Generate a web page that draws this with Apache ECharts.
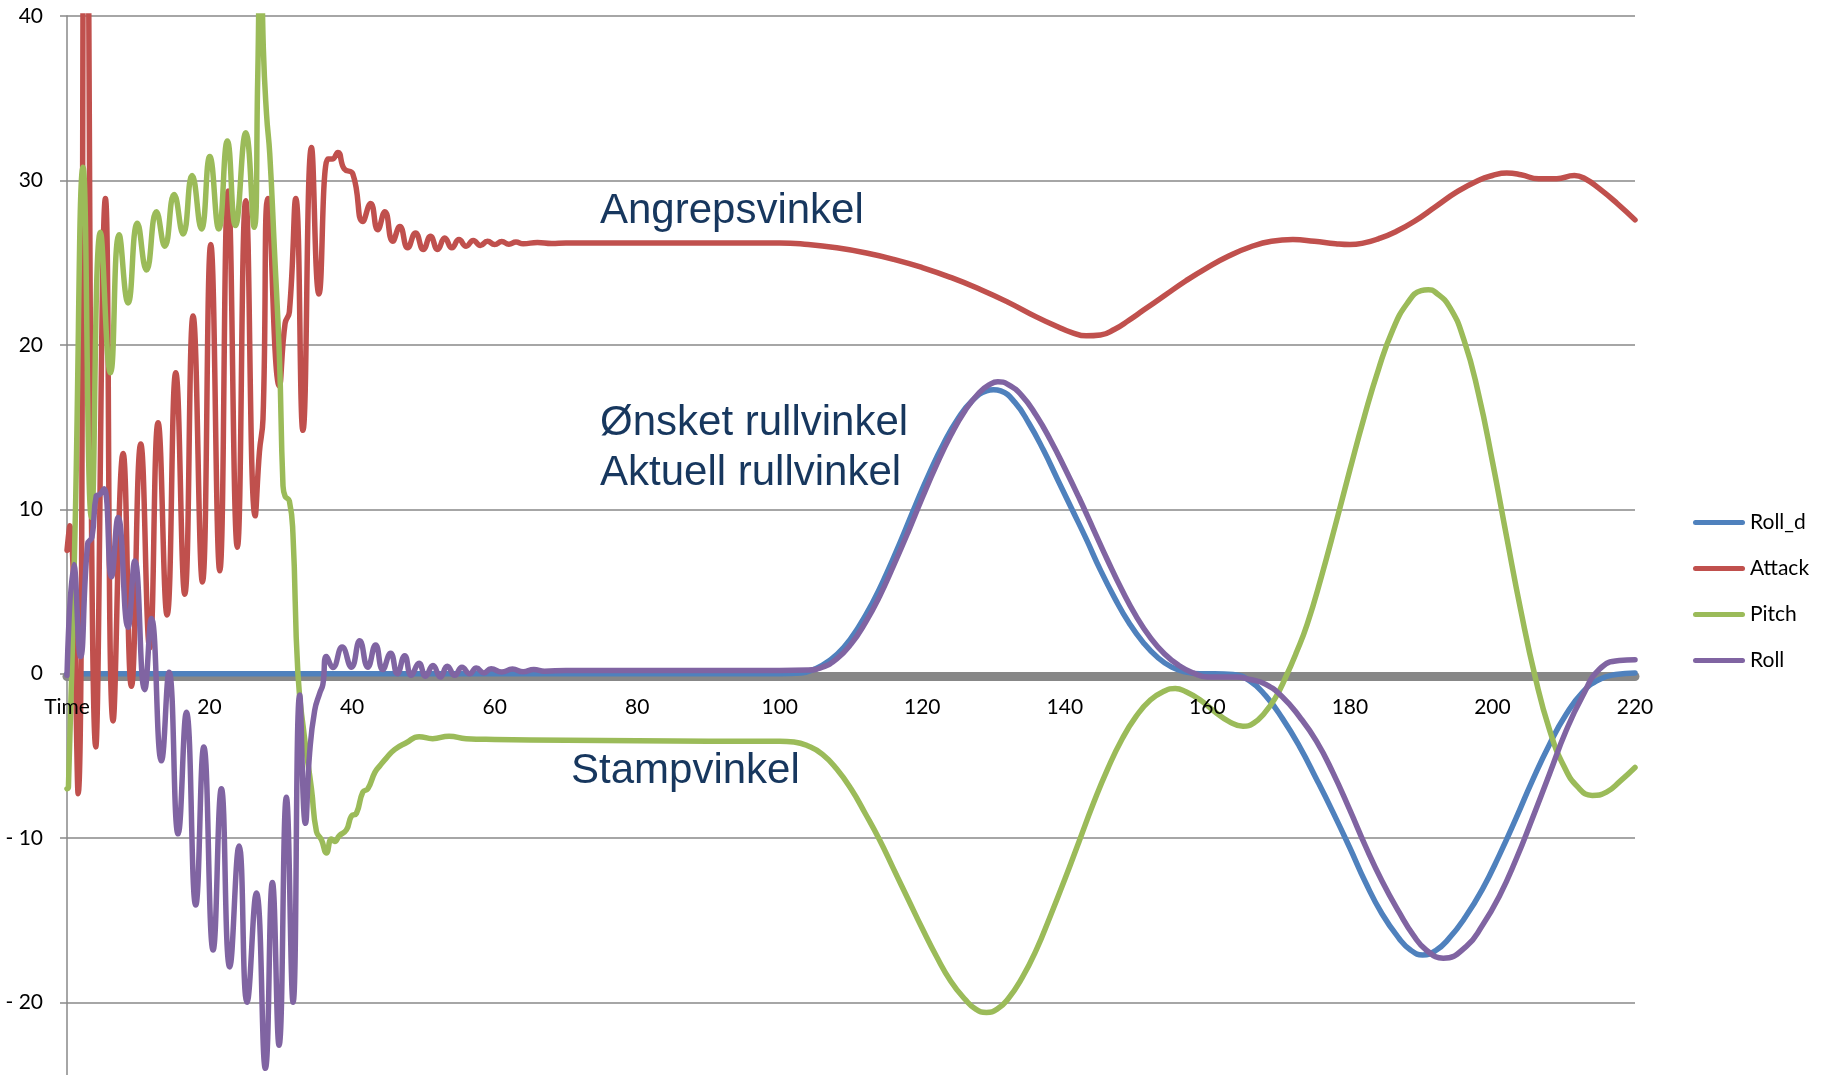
<!DOCTYPE html>
<html>
<head>
<meta charset="utf-8">
<script src="https://cdn.jsdelivr.net/npm/echarts@6/dist/echarts.min.js"></script>
<style>
  html, body { margin: 0; padding: 0; background: #ffffff; }
  #chart { width: 1829px; height: 1075px; }
</style>
</head>
<body>
<div id="chart"></div>
<script>
// Flight log: angles in degrees against time in seconds.
// Each series keeps its own time stamps (dense where it oscillates).

const rollDTime = [0, 100, 103, 105, 107, 109, 111, 113, 115, 117, 119, 121, 123, 125, 127, 129, 130, 131, 133, 135, 137, 139, 141, 143, 145, 147, 149, 151, 153, 155, 157, 159, 161, 163.6, 166, 168.2, 170.5, 172.9, 175.3, 177.6, 180, 182.2, 184.5, 186.9, 188.5, 190.2, 192, 193.9, 196.2, 198.6, 201, 203.3, 205.6, 208, 210.3, 212.7, 215, 217.3, 220];
const rollDDeg  = [0, 0, 0.05, 0.3, 0.8, 1.6, 2.8, 4.3, 6.1, 8.1, 10.2, 12.2, 14.0, 15.5, 16.6, 17.2, 17.27, 17.2, 16.5, 15.2, 13.6, 11.8, 10.0, 8.2, 6.3, 4.6, 3.1, 1.9, 1.0, 0.4, 0.1, 0, 0, -0.05, -0.45, -1.35, -2.7, -4.4, -6.4, -8.4, -10.6, -12.7, -14.6, -16.1, -16.8, -17.1, -16.85, -16.1, -14.8, -13.1, -11.0, -8.8, -6.5, -4.3, -2.5, -1.1, -0.35, -0.05, 0.05];

const attackTime = [0, 0.4, 1.56, 2.6, 4.04, 5.39, 6.47, 7.87, 9.04, 10.35, 11.61, 12.78, 14.04, 15.26, 16.52, 17.69, 19.0, 20.17, 21.43, 22.6, 23.9, 25.08, 26.4, 27.0, 27.5, 28.2, 29.8, 30.6, 31.2, 32.1, 33.1, 34.3, 35.35, 36.6, 37.2, 38.0, 38.9, 40.1, 41.5, 42.6, 43.6, 44.6, 45.7, 46.7, 47.8, 48.9, 50.0, 51.0, 52.0, 53.0, 54.0, 55.0, 56.0, 57.0, 58.0, 59.0, 60.0, 61.0, 62.0, 63.0, 64.0, 66.0, 68.0, 70, 80, 90, 100, 104, 108, 112, 116, 120, 124, 128, 132, 136, 139, 141, 143, 145, 147, 149, 151, 154, 157, 160, 163, 166, 169, 172, 175, 178, 180, 182, 184, 186.5, 189, 192, 195, 198, 200, 202, 204, 206.5, 209, 211.5, 213, 215, 217.5, 220];
const attackDeg  = [7.5, 9.0, -7.3, 58, -4.45, 28.9, -2.87, 13.4, -0.76, 13.97, 1.57, 15.27, 3.57, 18.3, 4.84, 21.76, 5.58, 26.1, 6.26, 29.35, 7.69, 28.77, 9.6, 13.5, 15.5, 28.9, 17.5, 21.3, 22.0, 28.9, 14.8, 32.0, 23.1, 31.3, 31.3, 31.7, 30.7, 30.4, 27.5, 28.6, 27.0, 28.1, 26.3, 27.2, 25.9, 26.8, 25.8, 26.6, 25.8, 26.5, 25.9, 26.4, 26.0, 26.35, 26.05, 26.3, 26.1, 26.28, 26.12, 26.25, 26.15, 26.22, 26.16, 26.2, 26.2, 26.2, 26.2, 26.1, 25.9, 25.6, 25.2, 24.7, 24.1, 23.4, 22.6, 21.7, 21.1, 20.75, 20.55, 20.6, 20.95, 21.5, 22.1, 23.0, 23.9, 24.7, 25.4, 25.95, 26.3, 26.4, 26.3, 26.15, 26.1, 26.2, 26.45, 26.9, 27.5, 28.4, 29.3, 30.0, 30.3, 30.45, 30.35, 30.1, 30.1, 30.3, 30.1, 29.5, 28.6, 27.6];

const pitchTime = [0, 0.2, 1.1, 2.26, 3.43, 4.69, 6.1, 7.31, 8.57, 9.88, 11.15, 12.55, 13.72, 15.03, 16.29, 17.55, 18.86, 20.03, 21.29, 22.5, 23.63, 25.08, 26.25, 26.75, 27.15, 27.55, 28.0, 28.45, 29.1, 29.8, 30.3, 30.6, 31.2, 31.7, 32.4, 33.3, 34.3, 35.0, 35.7, 36.4, 37.1, 37.56, 38.2, 39.2, 39.9, 40.6, 41.5, 42.2, 43.2, 43.9, 44.8, 46.0, 47.6, 49.4, 51.3, 53.6, 56.0, 60, 70, 80, 90, 100, 102, 104, 106, 108, 110, 112, 114, 116, 118, 120, 122, 124, 126, 127.5, 129, 130.5, 132, 134, 136, 138, 140, 142, 144, 146, 148, 150, 152, 154, 155.5, 157, 159, 161, 163, 165, 166.5, 168, 169.5, 171, 172.5, 174, 176, 178, 180, 182, 184, 186, 188, 190, 191, 192, 194, 196, 198, 200, 202, 204, 206, 208, 210, 212, 214, 216, 218, 220];
const pitchDeg  = [-7.0, -6.9, 8.2, 30.8, 9.5, 26.85, 18.3, 26.7, 22.55, 27.4, 24.55, 28.1, 26.0, 29.15, 26.74, 30.3, 27.05, 31.45, 27.05, 32.4, 27.26, 32.9, 27.15, 36, 46, 38, 34.0, 31.6, 25.8, 19.3, 11.5, 10.8, 10.5, 8.5, 0, -3.8, -7.0, -9.6, -10.1, -10.9, -10.05, -10.2, -9.85, -9.5, -8.66, -8.5, -7.2, -7.0, -6.0, -5.6, -5.13, -4.6, -4.2, -3.83, -3.95, -3.8, -3.95, -4.0, -4.05, -4.08, -4.1, -4.1, -4.15, -4.4, -4.9, -5.8, -7.0, -8.5, -10.1, -11.9, -13.7, -15.5, -17.2, -18.7, -19.8, -20.4, -20.6, -20.4, -19.8, -18.5, -16.8, -14.7, -12.5, -10.2, -7.9, -5.8, -4.0, -2.6, -1.6, -1.05, -0.9, -1.1, -1.6, -2.3, -2.9, -3.2, -3.0, -2.4, -1.5, -0.2, 1.3, 3.0, 5.9, 9.1, 12.4, 15.6, 18.5, 20.9, 22.5, 23.3, 23.35, 23.2, 22.3, 20.3, 17.1, 12.9, 8.3, 3.8, -0.2, -3.4, -5.6, -6.9, -7.4, -7.2, -6.5, -5.7];

const rollTime = [0, 0.95, 1.89, 2.9, 3.5, 4.1, 4.6, 5.2, 6.24, 7.17, 8.57, 9.51, 10.9, 11.85, 13.25, 14.32, 15.59, 16.75, 18.06, 19.19, 20.5, 21.66, 22.83, 24.14, 25.26, 26.57, 27.83, 28.82, 29.75, 30.78, 31.72, 32.65, 33.45, 34.05, 34.75, 35.46, 35.9, 36.4, 37.3, 38.6, 39.9, 41.07, 42.2, 43.3, 44.3, 45.4, 46.35, 47.38, 48.3, 49.39, 50.3, 51.35, 52.38, 53.36, 54.4, 55.42, 56.5, 57.43, 58.5, 59.5, 61, 62.5, 64, 65.5, 67, 70, 80, 90, 100, 104, 106, 108, 110, 112, 114, 116, 118, 120, 122, 124, 126, 128, 129.5, 130.6, 132, 134, 136, 138, 140, 142, 144, 146, 148, 150, 152, 154, 156, 158, 160, 164, 166, 168.2, 170.5, 172.9, 175.3, 177.6, 180, 182.2, 184.5, 186.9, 188.9, 190.7, 193.1, 196.3, 198.6, 201, 203.3, 205.6, 208, 210.3, 212.6, 215, 217.8, 220];
const rollDeg  = [-0.1, 6.64, 1.04, 7.9, 8.3, 10.8, 10.9, 11.25, 5.9, 9.5, 2.83, 6.85, -0.97, 3.36, -5.3, 0.09, -9.74, -2.34, -14.07, -4.45, -16.8, -6.99, -17.83, -10.48, -19.98, -13.33, -24.0, -12.7, -22.6, -7.52, -19.98, -1.29, -9.1, -4.77, -2.24, -1.18, -0.65, 1.04, 0.38, 1.62, 0.4, 2.0, 0.4, 1.75, 0.25, 1.25, 0.0, 1.1, -0.1, 0.63, -0.15, 0.5, -0.2, 0.45, -0.1, 0.4, 0.0, 0.35, 0.05, 0.3, 0.1, 0.28, 0.12, 0.25, 0.15, 0.2, 0.2, 0.2, 0.2, 0.22, 0.4, 0.9, 1.8, 3.1, 4.7, 6.6, 8.6, 10.7, 12.7, 14.5, 16.0, 17.1, 17.6, 17.75, 17.6, 16.9, 15.7, 14.2, 12.5, 10.7, 8.8, 6.9, 5.1, 3.5, 2.2, 1.2, 0.5, 0.05, -0.2, -0.2, -0.35, -0.65, -1.4, -2.6, -4.1, -6.0, -8.3, -10.5, -12.6, -14.5, -15.9, -16.8, -17.3, -16.6, -15.3, -13.5, -11.3, -8.8, -6.1, -3.5, -1.4, 0.27, 0.8, 0.85];

// Axis ticks
const xTicksStep = 20;
const xFirstTickLabel = 'Time';
const yTicksStep = 10;

const seriesNames = ['Roll_d', 'Attack', 'Pitch', 'Roll'];
const seriesColors = ['#4F81BD', '#C0504D', '#9BBB59', '#8064A2'];

// Callout texts placed next to the curves they describe
const callouts = [
  { text: 'Angrepsvinkel', left: 600, top: 190 },
  { text: 'Ønsket rullvinkel', left: 600, top: 402 },
  { text: 'Aktuell rullvinkel', left: 600, top: 452 },
  { text: 'Stampvinkel', left: 571, top: 750 }
];

function zip(t, v) {
  return t.map(function (x, i) { return [x, v[i]]; });
}

const seriesData = [
  zip(rollDTime, rollDDeg),
  zip(attackTime, attackDeg),
  zip(pitchTime, pitchDeg),
  zip(rollTime, rollDeg)
];

const labelFont = { fontFamily: 'Lato', fontSize: 21, color: '#000000' };
const gridGray = '#898989';

// Plot area: y runs from -30 (below the visible page) to 40.
const plotLeft = 67, plotRight = 194, plotTop = 16, plotBottom = -92;
// Empty grids whose lower edge sits on y = 0 carry the time axis:
// one for the thick zero line (under the curves), one for its labels (above them).
const zeroLineBottom = 1075 - (plotTop + 40 * (1075 - plotTop - plotBottom) / 70);

const legendIcon = 'path://M2.5,0 L49.5,0 A2.5,2.5 0 0 1 49.5,5 L2.5,5 A2.5,2.5 0 0 1 2.5,0 Z';

const zeroGrid = { left: plotLeft, right: plotRight, top: plotTop, bottom: zeroLineBottom, containLabel: false, outerBoundsMode: 'none' };

const chart = echarts.init(document.getElementById('chart'), null, { renderer: 'canvas' });

chart.setOption({
  backgroundColor: '#ffffff',
  animation: false,
  grid: [
    { left: plotLeft, right: plotRight, top: plotTop, bottom: plotBottom, containLabel: false, outerBoundsMode: 'none' },
    Object.assign({}, zeroGrid),
    Object.assign({}, zeroGrid)
  ],
  legend: {
    orient: 'vertical',
    left: 1693,
    top: 512,
    padding: 0,
    itemWidth: 52,
    itemHeight: 21,
    itemGap: 25,
    icon: legendIcon,
    symbolKeepAspect: true,
    textStyle: Object.assign({}, labelFont),
    data: seriesNames
  },
  xAxis: [
    {
      gridIndex: 0,
      type: 'value',
      min: 0,
      max: 220,
      interval: xTicksStep,
      axisLine: { show: false },
      axisTick: { show: false },
      axisLabel: { show: false },
      splitLine: { show: false }
    },
    {
      gridIndex: 1,
      type: 'value',
      position: 'bottom',
      offset: 3,
      min: 0,
      max: 220,
      interval: xTicksStep,
      axisLine: { show: true, onZero: false, lineStyle: { color: '#878787', width: 9 } },
      axisTick: { show: false },
      splitLine: { show: false },
      axisLabel: { show: false }
    },
    {
      gridIndex: 2,
      type: 'value',
      position: 'bottom',
      offset: 3,
      z: 5,
      min: 0,
      max: 220,
      interval: xTicksStep,
      axisLine: { show: false, onZero: false },
      axisTick: { show: false },
      splitLine: { show: false },
      axisLabel: Object.assign({
        show: true,
        margin: 20,
        formatter: function (v) { return v === 0 ? xFirstTickLabel : String(v); }
      }, labelFont)
    }
  ],
  yAxis: [
    {
      gridIndex: 0,
      type: 'value',
      min: -30,
      max: 40,
      interval: yTicksStep,
      axisLine: { show: true, onZero: false, lineStyle: { color: gridGray, width: 1.5 } },
      axisTick: { show: true, length: 7, lineStyle: { color: gridGray, width: 1.5 } },
      splitLine: { show: true, lineStyle: { color: gridGray, width: 1.5 } },
      axisLabel: Object.assign({
        margin: 24,
        formatter: function (v) { return v < 0 ? '- ' + Math.abs(v) : String(v); }
      }, labelFont)
    },
    { gridIndex: 1, type: 'value', min: 0, max: 40, show: false },
    { gridIndex: 2, type: 'value', min: 0, max: 40, show: false }
  ],
  graphic: callouts.map(function (c) {
    return {
      type: 'text',
      left: c.left,
      top: c.top,
      z: 100,
      style: {
        text: c.text,
        font: '42px "Liberation Sans", Arial, sans-serif',
        fill: '#17375E'
      }
    };
  }),
  series: seriesNames.map(function (name, i) {
    return {
      name: name,
      type: 'line',
      xAxisIndex: 0,
      yAxisIndex: 0,
      data: seriesData[i],
      symbol: 'none',
      smooth: 0.5,
      clip: true,
      lineStyle: { color: seriesColors[i], width: 5.5, cap: 'round', join: 'round' },
      itemStyle: { color: seriesColors[i] }
    };
  })
});
</script>
</body>
</html>
